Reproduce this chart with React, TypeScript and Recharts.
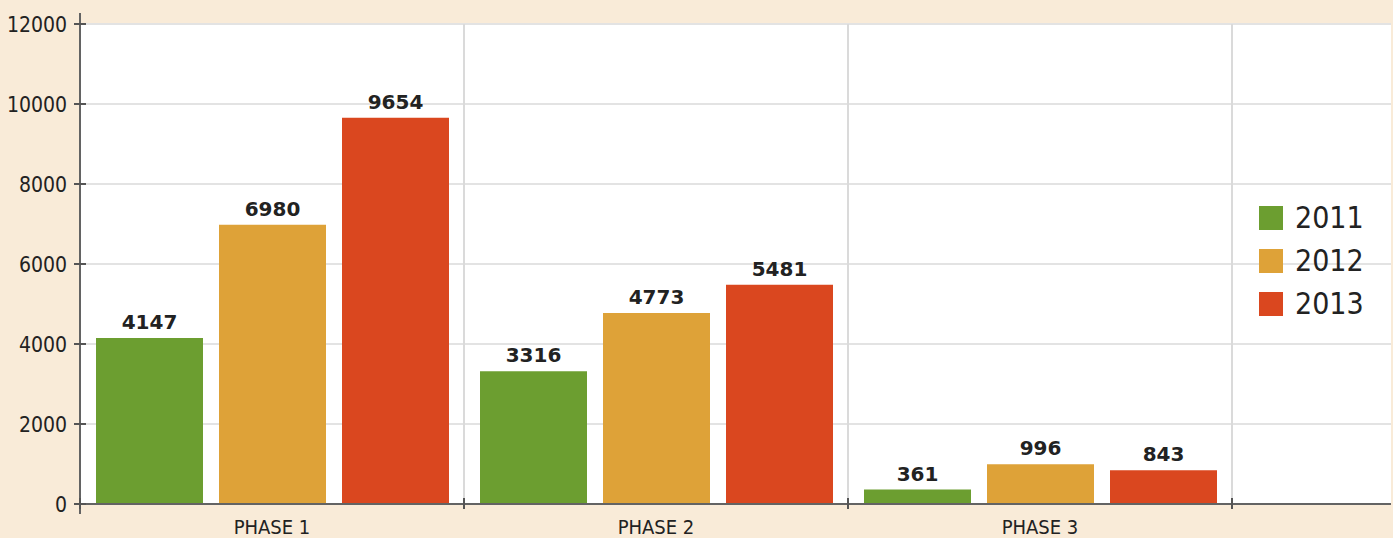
import * as Recharts from 'recharts'
import { BarChart, Bar, XAxis, YAxis, CartesianGrid, LabelList, ReferenceLine } from 'recharts'

// ─── data ─────────────────────────────────────────────
const phases = ['PHASE 1', 'PHASE 2', 'PHASE 3']
const years = ['2011', '2012', '2013']
const values2011 = [4147, 3316, 361]
const values2012 = [6980, 4773, 996]
const values2013 = [9654, 5481, 843]
const yTicks = [0, 2000, 4000, 6000, 8000, 10000, 12000]

const COLORS = ['#6c9e30', '#dea238', '#da471f']
const BG = '#f9ebd8'
const AXIS = '#636363'
const GRID = '#e3e3e3'
const TEXT = '#222'
const FONT = '"DejaVu Sans Condensed", "DejaVu Sans", sans-serif'

const seriesValues = [values2011, values2012, values2013]
const data = phases.map((p, i) => {
  const row: Record<string, string | number> = { phase: p }
  years.forEach((y, k) => { row[y] = seriesValues[k][i] })
  return row
})

// page reset: chart sits flush in the window
document.body.style.margin = '0'
document.body.style.background = BG

// y axis line that runs a bit past the plot top/bottom
function AxisStub() {
  const hook = (Recharts as any).usePlotArea
  const area = hook ? hook() : null
  if (!area) return null
  return (
    <line
      x1={area.x} x2={area.x}
      y1={area.y - 11} y2={area.y + area.height + 10}
      stroke={AXIS} strokeWidth={2}
    />
  )
}

const XTick = (props: any) => {
  const { x, y, payload, index } = props
  const off = payload?.offset ?? 0
  return (
    <g>
      <line x1={x - off} x2={x - off} y1={y - 6} y2={y + 5} stroke="#555" strokeWidth={2} />
      {index === phases.length - 1 && (
        <line x1={x + off} x2={x + off} y1={y - 6} y2={y + 5} stroke="#555" strokeWidth={2} />
      )}
      <text x={x} y={y} dy={30} textAnchor="middle" fontSize={20} fontFamily={FONT} fill={TEXT}>
        {payload.value}
      </text>
    </g>
  )
}

const YTick = (props: any) => {
  const { x, y, payload } = props
  return (
    <g>
      <line x1={x - 6} x2={x + 6} y1={y} y2={y} stroke="#555" strokeWidth={2} />
      <text x={x - 13} y={y} dy={8} textAnchor="end" fontSize={21} fontFamily={FONT} fill={TEXT}>
        {payload.value}
      </text>
    </g>
  )
}

export default function App() {
  return (
    <div style={{ position: 'relative', width: 1393, height: 538, background: BG }}>
      <BarChart
        width={1393}
        height={538}
        data={data}
        margin={{ top: 24, right: 2, left: 0, bottom: 0 }}
        barCategoryGap={16}
        barGap={16}
      >
        <CartesianGrid vertical={false} stroke={GRID} strokeWidth={2} fill="#fff" />
        <XAxis
          dataKey="phase"
          height={34}
          padding={{ left: 0, right: 159 }}
          axisLine={{ stroke: AXIS, strokeWidth: 2 }}
          tickLine={false}
          tickSize={0}
          tickMargin={0}
          interval={0}
          tick={<XTick />}
        />
        <YAxis
          width={80}
          domain={[0, 12000]}
          ticks={yTicks}
          axisLine={false}
          tickLine={false}
          tickSize={0}
          tickMargin={0}
          tick={<YTick />}
        />
        {phases.slice(1).map((p) => (
          <ReferenceLine key={p} x={p} position="start" stroke="#dadada" strokeWidth={2} />
        ))}
        <ReferenceLine x={phases[phases.length - 1]} position="end" stroke="#dadada" strokeWidth={2} />
        {years.map((y, k) => (
          <Bar key={y} dataKey={y} fill={COLORS[k]} isAnimationActive={false}>
            <LabelList
              dataKey={y}
              position="top"
              offset={9}
              fill={TEXT}
              fontSize={20}
              fontWeight="bold"
              fontFamily='"DejaVu Sans", sans-serif'
            />
          </Bar>
        ))}
        <AxisStub />
      </BarChart>

      {/* legend */}
      <div style={{ position: 'absolute', left: 1259, top: 196, fontFamily: FONT, color: TEXT }}>
        {years.map((y, k) => (
          <div key={y} style={{ display: 'flex', alignItems: 'center', height: 43 }}>
            <span style={{ width: 24, height: 24, background: COLORS[k], marginRight: 12, display: 'inline-block' }} />
            <span style={{ fontSize: 30, lineHeight: '30px' }}>{y}</span>
          </div>
        ))}
      </div>
    </div>
  )
}
